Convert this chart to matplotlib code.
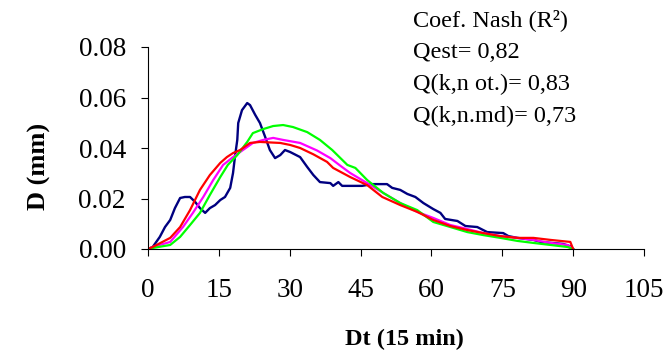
import numpy as np
import matplotlib.pyplot as plt

# hydrographs: time (x 15 min) and D (mm)
t_obs = [0, 1, 2.5, 3.6, 4.7, 5.7, 6.8, 7.8, 8.9, 10, 11, 12.1, 13.1, 14.2, 15.3, 16.3,
         17.4, 18, 18.4, 18.9, 19.1, 19.9, 21, 21.6, 22.7, 23.7, 24.8, 25.8, 26.9, 28,
         29, 30.1, 32.2, 33.7, 35, 36.4, 38.6, 39.2, 40.3, 41.1, 45.3, 47.5, 50.6, 51.7,
         53.4, 54.9, 56.6, 58.3, 60.4, 61.9, 62.9, 65.5, 67.2, 69.7, 71.8, 75.2, 76.3,
         78.2, 81.6, 83.1, 87.9, 89.5, 90]
d_obs = [0, 0.0008, 0.0048, 0.0087, 0.0115, 0.0162, 0.0202, 0.0206, 0.0206, 0.0186, 0.0162,
         0.0143, 0.0162, 0.0174, 0.0194, 0.0206, 0.0242, 0.0301, 0.0364, 0.0432, 0.0499,
         0.0550, 0.0578, 0.0570, 0.0531, 0.0499, 0.0444, 0.0392, 0.0360, 0.0372, 0.0392,
         0.0384, 0.0364, 0.0325, 0.0293, 0.0265, 0.0261, 0.0250, 0.0265, 0.0250, 0.0250,
         0.0257, 0.0257, 0.0242, 0.0234, 0.0218, 0.0206, 0.0182, 0.0158, 0.0143, 0.0119,
         0.0111, 0.0091, 0.0087, 0.0067, 0.0063, 0.0051, 0.0044, 0.0036, 0.0028, 0.0020,
         0.0010, 0]

t_red = [0, 1, 4.7, 6.8, 8.9, 11, 13.1, 15.3, 16.7, 18, 19.5, 21.6, 23.7, 28, 30.1, 32.2,
         35, 37.9, 39.2, 42.8, 46.4, 49.6, 53.4, 57, 60.4, 64, 67.6, 71, 74.6, 78.2, 81.6,
         85.2, 89.4, 90]
d_red = [0, 0.0008, 0.0044, 0.0087, 0.0154, 0.0234, 0.0293, 0.0341, 0.0364, 0.0380, 0.0392,
         0.0420, 0.0424, 0.0420, 0.0412, 0.0400, 0.0375, 0.0345, 0.0321, 0.0285, 0.0253,
         0.0206, 0.0174, 0.0147, 0.0115, 0.0091, 0.0075, 0.0063, 0.0051, 0.0044, 0.0044,
         0.0036, 0.0028, 0]

t_mag = [0, 1, 4.7, 7.4, 9.5, 11.7, 13.8, 15.9, 18, 20.1, 22.2, 24.4, 26.5, 28.6, 32.2,
         35.8, 38.6, 40.7, 42.8, 46.4, 49.8, 53.4, 57, 60.4, 64, 67.6, 71, 74.6, 78.2,
         81.6, 85.2, 88.8, 90]
d_mag = [0, 0.0008, 0.0028, 0.0087, 0.0143, 0.0206, 0.0273, 0.0333, 0.0364, 0.0392, 0.0420,
         0.0432, 0.0440, 0.0432, 0.0420, 0.0390, 0.0360, 0.0330, 0.0301, 0.0261, 0.0222,
         0.0182, 0.0147, 0.0123, 0.0095, 0.0079, 0.0063, 0.0051, 0.0044, 0.0036, 0.0024,
         0.0016, 0]

t_grn = [0, 1, 4.7, 6.8, 8.9, 11, 13.1, 15.3, 16.9, 18.9, 21, 22.2, 24.4, 26.5, 28.6,
         30.7, 33.7, 36.4, 39, 42.2, 43.9, 46.4, 49.8, 53.4, 57, 60.4, 64, 67.6, 71,
         74.6, 78.2, 81.6, 85.2, 88.8, 90]
d_grn = [0, 0.0004, 0.0016, 0.0048, 0.0095, 0.0143, 0.0214, 0.0285, 0.0333, 0.0372, 0.0424,
         0.0459, 0.0475, 0.0487, 0.0491, 0.0483, 0.0463, 0.0432, 0.0392, 0.0333, 0.0321,
         0.0273, 0.0222, 0.0182, 0.0154, 0.0107, 0.0087, 0.0067, 0.0055, 0.0044, 0.0032,
         0.0024, 0.0016, 0.0008, 0]

xticks = [0, 15, 30, 45, 60, 75, 90, 105]
yticks = [0.0, 0.02, 0.04, 0.06, 0.08]
notes = ["Coef. Nash (R²)", "Qest= 0,82", "Q(k,n ot.)= 0,83", "Q(k,n.md)= 0,73"]

plt.rcParams['font.family'] = ['Liberation Serif', 'DejaVu Serif']

fig = plt.figure(figsize=(6.71, 3.56), dpi=100)
ax = fig.add_axes([148/671, 107/356, 496/671, 202/356])

ax.plot(t_obs, d_obs, color='#000080', lw=1.7)
ax.plot(t_mag, d_mag, color='#FF00FF', lw=1.6)
ax.plot(t_grn, d_grn, color='#00FF00', lw=1.6)
ax.plot(t_red, d_red, color='#FF0000', lw=1.6)

ax.set_xlim(0, 105)
ax.set_ylim(0, 0.08)
ax.set_xticks(xticks)
ax.set_yticks(yticks)
ax.set_yticklabels(["%.2f" % v for v in yticks])
ax.spines['top'].set_visible(False)
ax.spines['right'].set_visible(False)
ax.tick_params(axis='x', length=5, pad=16, labelsize=19.5)
ax.tick_params(axis='y', length=5, pad=11, labelsize=19.5)

ax.set_xlabel("Dt (15 min)", fontsize=17.5, fontweight='bold', va='center')
ax.xaxis.set_label_coords(0.518, -0.45)
ax.set_ylabel("D (mm)", fontsize=19, fontweight='bold', va='center')
ax.yaxis.set_label_coords(-0.218, 0.41)

for i, s in enumerate(notes):
    fig.text(413/671, 1 - (20 + i*32)/356, s, fontsize=17.5, va='center', ha='left')

fig.savefig("out.png", dpi=100)
